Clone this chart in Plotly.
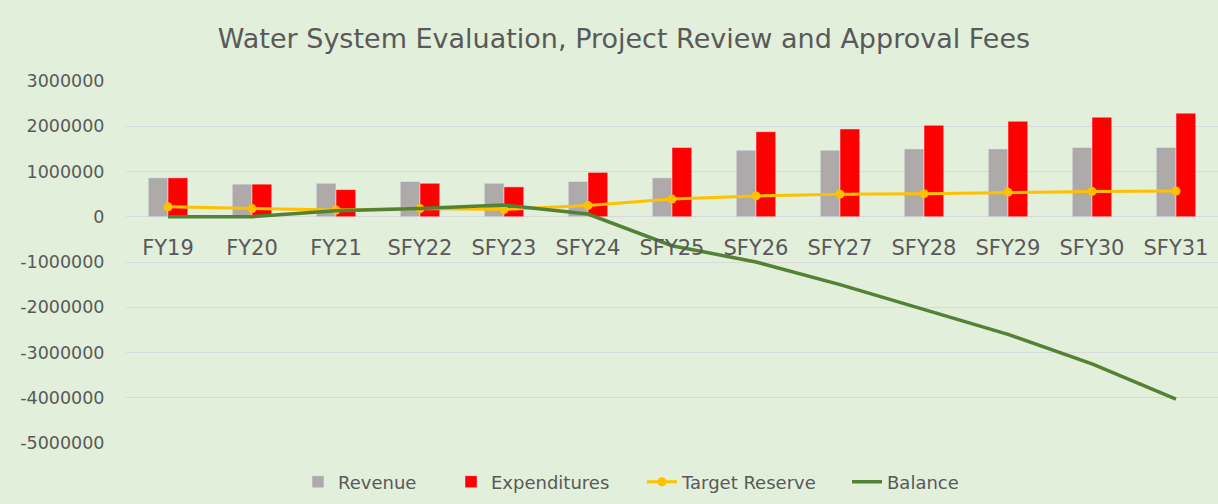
import plotly.graph_objects as go

categories = ["FY19", "FY20", "FY21", "SFY22", "SFY23", "SFY24", "SFY25",
              "SFY26", "SFY27", "SFY28", "SFY29", "SFY30", "SFY31"]
revenue = [860000, 720000, 740000, 780000, 740000, 780000, 860000,
           1470000, 1470000, 1500000, 1500000, 1530000, 1530000]
expenditures = [860000, 720000, 600000, 740000, 660000, 980000, 1530000,
                1880000, 1940000, 2020000, 2110000, 2200000, 2290000]
target_reserve = [220000, 180000, 150000, 180000, 160000, 250000, 390000,
                  460000, 500000, 510000, 540000, 560000, 570000]
balance = [0, 0, 130000, 180000, 260000, 60000, -640000,
           -1000000, -1500000, -2050000, -2600000, -3250000, -4030000]
y_ticks = [3000000, 2000000, 1000000, 0, -1000000, -2000000, -3000000, -4000000, -5000000]
y_tick_labels = [str(v) for v in y_ticks]

FONT = "DejaVu Sans"
TXT = "#595959"
BG = "#E2EFDA"
W, H = 1218, 504
L, R, top, bottom = 126, 0, 81, 443


def px_x(px):
    return (px - L) / (W - L - R)


def px_y(py):
    return (bottom - py) / (bottom - top)


fig = go.Figure()
fig.add_trace(go.Bar(name="Revenue", x=categories, y=revenue, marker_color="#AEAAAA", legend="legend"))
fig.add_trace(go.Bar(name="Expenditures", x=categories, y=expenditures, marker_color="#FF0000", legend="legend2"))
fig.add_trace(go.Scatter(name="Target Reserve", x=categories, y=target_reserve, mode="lines+markers",
                         line=dict(color="#FFC000", width=3), marker=dict(size=9, color="#FFC000"),
                         legend="legend3"))
fig.add_trace(go.Scatter(name="Balance", x=categories, y=balance, mode="lines",
                         line=dict(color="#548235", width=3.5), legend="legend4"))

leg_common = dict(orientation="h", xanchor="left", yanchor="middle", y=px_y(482),
                  font=dict(family=FONT, size=18, color=TXT), bgcolor="rgba(0,0,0,0)",
                  borderwidth=0)
fig.update_layout(
    width=W, height=H,
    paper_bgcolor=BG, plot_bgcolor=BG,
    margin=dict(l=L, r=R, t=top, b=H - bottom, autoexpand=False, pad=0),
    barmode="group", bargap=0.53, bargroupgap=0,
    font=dict(family=FONT, color=TXT),
    title=dict(text="Water System Evaluation, Project Review and Approval Fees",
               x=(215 + 1033) / 2 / W, xanchor="center", y=1 - 39 / H, yanchor="middle",
               font=dict(family=FONT, size=27, color=TXT)),
    legend=dict(x=px_x(340 - 42), **leg_common),
    legend2=dict(x=px_x(493 - 42), **leg_common),
    legend3=dict(x=px_x(684 - 42), **leg_common),
    legend4=dict(x=px_x(889 - 42), **leg_common),
    showlegend=True,
    xaxis=dict(anchor="free", position=5 / 8, showline=False, showgrid=False,
               range=[-0.5, len(categories) - 0.5], autorange=False,
               ticks="outside", ticklen=12, tickcolor="rgba(0,0,0,0)",
               tickfont=dict(family=FONT, size=21, color=TXT)),
    yaxis=dict(range=[-5000000, 3000000], tickvals=y_ticks, ticktext=y_tick_labels,
               showgrid=True, gridcolor="#D9D9D9", gridwidth=1,
               zeroline=True, zerolinecolor="#D9D9D9", zerolinewidth=1,
               ticks="outside", ticklen=17, tickcolor="rgba(0,0,0,0)",
               tickfont=dict(family=FONT, size=17.5, color=TXT), domain=[0, 1]),
)

fig.write_html("out.html", config={"displayModeBar": False},
               post_script="document.body.style.margin='0';")
